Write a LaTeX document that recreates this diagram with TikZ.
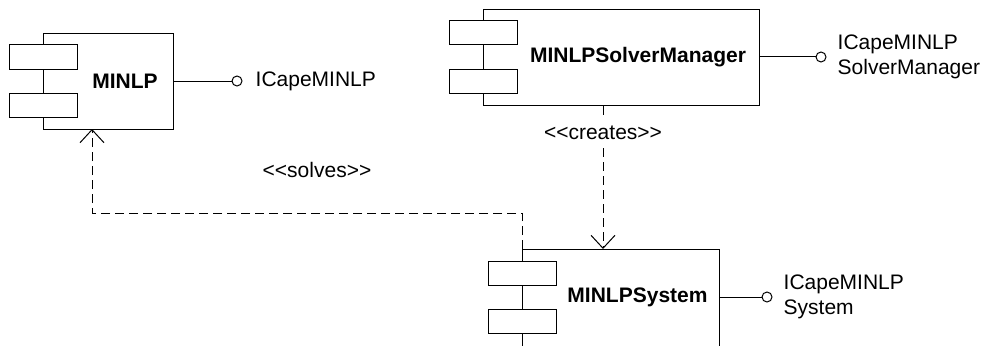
\documentclass[tikz,border=0pt]{standalone}
\usepackage{fontspec}
\setmainfont{Liberation Sans}[Ligatures=TeXOff]
\usetikzlibrary{arrows.meta}
\begin{document}
\begin{tikzpicture}[x=1pt,y=-1pt,
  comp/.style={draw, line width=1pt, rectangle, minimum height=96pt, inner sep=0pt, anchor=north west},
  tab/.style={draw, fill=white, line width=1pt, minimum width=68pt, minimum height=24pt, inner sep=0pt},
  lolli/.style={draw, circle, fill=white, line width=1pt, minimum size=10pt, inner sep=0pt},
  ctitle/.style={font=\bfseries\fontsize{21}{25}\selectfont, inner sep=0pt},
  itext/.style={font=\fontsize{21}{25}\selectfont, align=left, anchor=west, inner sep=0pt},
  stereo/.style={font=\fontsize{21}{25}\selectfont, inner sep=0pt},
  dep/.style={line width=1pt, dash pattern=on 9pt off 5pt, -{Straight Barb[length=13pt, width=24pt]}},
  conn/.style={line width=1pt}]
\useasboundingbox (0,0) rectangle (984,345);
\clip (0,0) rectangle (984,345);

% MINLP component
\node[comp, minimum width=130pt] (minlp) at (43,33) {};
\node[tab] (minlpt1) at (43,57) {};
\node[tab] (minlpt2) at (43,105) {};
\node[ctitle] (minlpl) at (125,81) {MINLP};
\node[lolli] (minlpi) at (237,81) {};
\draw[conn] (minlpi.west -| minlp.east) -- (minlpi.west);
\node[itext] (minlpn) at ([xshift=13pt]minlpi.east) {ICapeMINLP};

% MINLPSolverManager component
\node[comp, minimum width=276pt] (mgr) at (483,9) {};
\node[tab] (mgrt1) at (483,33) {};
\node[tab] (mgrt2) at (483,81) {};
\node[ctitle] (mgrl) at (638,57) {MINLPSolverManager};
\node[lolli] (mgri) at (821,57) {};
\draw[conn] (mgri.west -| mgr.east) -- (mgri.west);
\node[itext] (mgrn) at ([xshift=11pt]mgri.east) {ICapeMINLP\\SolverManager};

% MINLPSystem component (cut by the lower edge)
\node[comp, minimum width=197pt, minimum height=130pt] (sys) at (522,249) {};
\node[tab] (syst1) at (522,273) {};
\node[tab] (syst2) at (522,321) {};
\node[ctitle] (sysl) at (637.5,297) {MINLPSystem};
\node[lolli] (sysi) at (767,297) {};
\draw[conn] (sysi.west -| sys.east) -- (sysi.west);
\node[itext] (sysn) at ([xshift=11pt]sysi.east) {ICapeMINLP\\System};

% dependencies
\coordinate (crt) at (603,249);
\coordinate (mtg) at (92,129);
\draw[dep] (crt |- mgr.south) -- node[stereo, fill=white, pos=0.19, inner xsep=3pt, inner ysep=8pt] (crl) {<<creates>>} (crt);
\draw[dep] (sys.north west) -- ++(0,-36) -| (mtg);
\node[stereo] (sol) at (317,170) {<<solves>>};
\end{tikzpicture}
\end{document}
